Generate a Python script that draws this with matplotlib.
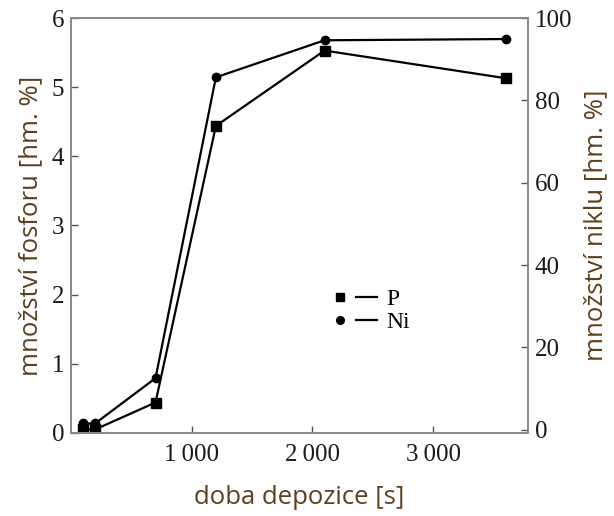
import matplotlib.pyplot as plt
from matplotlib.lines import Line2D
from matplotlib.legend_handler import HandlerTuple

# Data
time_s = [100, 200, 700, 1200, 2100, 3600]
phosphorus = [0.05, 0.05, 0.44, 4.44, 5.53, 5.13]   # hm. %
nickel = [1.5, 1.5, 12.5, 85.6, 94.6, 94.9]          # hm. %

x_ticks = [1000, 2000, 3000]
x_tick_labels = ["1\u2009000", "2\u2009000", "3\u2009000"]
p_ticks = [0, 1, 2, 3, 4, 5, 6]
ni_ticks = [0, 20, 40, 60, 80, 100]

label_color = "#5e3f1c"
spine_color = "#8a8a8a"
serif = "Liberation Serif"
sans = "Open Sans"

fig = plt.figure(figsize=(6.14, 5.16), dpi=100)
ax = fig.add_axes([0.1156, 0.161, 0.7444, 0.804])
ax2 = ax.twinx()

ax.plot(time_s, phosphorus, color="black", lw=1.6, marker="s", ms=6.5)
ax2.plot(time_s, nickel, color="black", lw=1.6, marker="o", ms=6)

ax.set_xlim(0, 3785)
ax.set_ylim(0, 6)
ax2.set_ylim(-0.8, 100)

ax.set_xticks(x_ticks)
ax.set_xticklabels(x_tick_labels)
ax.set_yticks(p_ticks)
ax2.set_yticks(ni_ticks)

for a in (ax, ax2):
    for s in a.spines.values():
        s.set_color(spine_color)
        s.set_linewidth(1.3)
    a.tick_params(direction="in", length=5, width=1, color="#555555",
                  labelsize=18, pad=5)
    for t in a.get_xticklabels() + a.get_yticklabels():
        t.set_fontfamily(serif)
        t.set_color("#1a1a1a")
ax.tick_params(axis="x", pad=8)

ax.set_xlabel("doba depozice [s]", fontsize=18.5, family=sans,
              color=label_color, labelpad=14)
ax.set_ylabel("množství fosforu [hm. %]", fontsize=18.5, family=sans,
              color=label_color, labelpad=6)
ax2.set_ylabel("množství niklu [hm. %]", fontsize=18.5, family=sans,
               color=label_color, labelpad=8)

# legend: marker, then a short line, then the label
h_p = (Line2D([], [], color="black", marker="s", ms=6, ls="none"),
       Line2D([], [], color="black", lw=1.6))
h_ni = (Line2D([], [], color="black", marker="o", ms=5.5, ls="none"),
        Line2D([], [], color="black", lw=1.6))
ax.legend([h_p, h_ni], ["P", "Ni"], handler_map={tuple: HandlerTuple(ndivide=None, pad=0.2)},
          loc="center left", bbox_to_anchor=(0.54, 0.294), frameon=False,
          prop={"family": serif, "size": 17}, handlelength=2.0,
          handletextpad=0.4, labelspacing=0.05, borderpad=0)

fig.savefig("out.png", dpi=100)
